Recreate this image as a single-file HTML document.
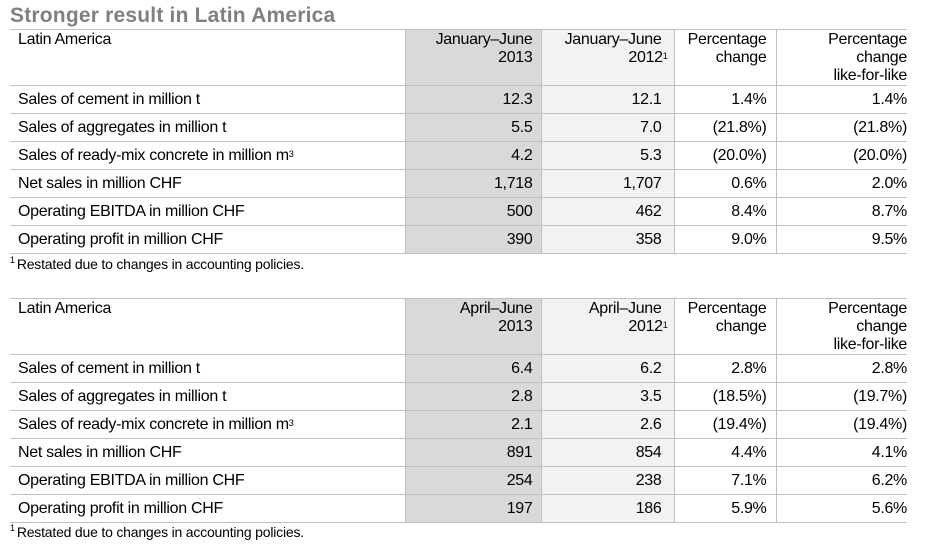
<!DOCTYPE html>
<html><head><meta charset="utf-8"><style>
body{margin:0;width:935px;height:551px;background:#fff;font-family:"Liberation Sans",Arial,sans-serif;color:#000;overflow:hidden;position:relative}
.title{position:absolute;left:10px;top:4px;font-size:21px;font-weight:bold;color:#808080;letter-spacing:0.2px}
table{position:absolute;left:10px;border-collapse:collapse;table-layout:fixed;font-size:16px;letter-spacing:-0.3px}
td{border-top:1px solid #c0c0c0;border-bottom:1px solid #c0c0c0;padding:0 6px;height:27px;text-align:right;vertical-align:middle;line-height:18px}
td.l{text-align:left;padding-left:8px}
td.c1{background:#d9d9d9;border-left:1px solid #c0c0c0;padding-right:8px}
td.c2{background:#f2f2f2;border-left:1px solid #c0c0c0;padding-right:12px}
td.c3{border-left:1px solid #c0c0c0;padding-right:9px}
td.c4{border-left:1px solid #c0c0c0;padding-right:0px}
tr.h td{height:54px;vertical-align:top;padding-top:1px;padding-bottom:0}
sup{font-size:9px;vertical-align:top;position:relative;top:-2px;margin-right:-6px}
.fn{position:absolute;left:10px;font-size:14px;letter-spacing:-0.2px}
.fn sup{margin-right:2px;top:-1px}
</style></head><body>
<div class="title">Stronger result in Latin America</div>

<table style="top:29px">
<colgroup><col style="width:395px"><col style="width:136px"><col style="width:133px"><col style="width:102px"><col style="width:131px"></colgroup>
<tr class="h"><td class="l">Latin America</td><td class="c1">January–June<br>2013</td><td class="c2">January–June<br>2012<sup>1</sup></td><td class="c3">Percentage<br>change</td><td class="c4">Percentage<br>change<br>like-for-like</td></tr>
<tr><td class="l">Sales of cement in million t</td><td class="c1">12.3</td><td class="c2">12.1</td><td class="c3">1.4%</td><td class="c4">1.4%</td></tr>
<tr><td class="l">Sales of aggregates in million t</td><td class="c1">5.5</td><td class="c2">7.0</td><td class="c3">(21.8%)</td><td class="c4">(21.8%)</td></tr>
<tr><td class="l">Sales of ready-mix concrete in million m<sup style="margin:0">3</sup></td><td class="c1">4.2</td><td class="c2">5.3</td><td class="c3">(20.0%)</td><td class="c4">(20.0%)</td></tr>
<tr><td class="l">Net sales in million CHF</td><td class="c1">1,718</td><td class="c2">1,707</td><td class="c3">0.6%</td><td class="c4">2.0%</td></tr>
<tr><td class="l">Operating EBITDA in million CHF</td><td class="c1">500</td><td class="c2">462</td><td class="c3">8.4%</td><td class="c4">8.7%</td></tr>
<tr><td class="l">Operating profit in million CHF</td><td class="c1">390</td><td class="c2">358</td><td class="c3">9.0%</td><td class="c4">9.5%</td></tr>
</table>
<div class="fn" style="top:256px"><sup>1</sup>Restated due to changes in accounting policies.</div>

<table style="top:298px">
<colgroup><col style="width:395px"><col style="width:136px"><col style="width:133px"><col style="width:102px"><col style="width:131px"></colgroup>
<tr class="h"><td class="l">Latin America</td><td class="c1">April–June<br>2013</td><td class="c2">April–June<br>2012<sup>1</sup></td><td class="c3">Percentage<br>change</td><td class="c4">Percentage<br>change<br>like-for-like</td></tr>
<tr><td class="l">Sales of cement in million t</td><td class="c1">6.4</td><td class="c2">6.2</td><td class="c3">2.8%</td><td class="c4">2.8%</td></tr>
<tr><td class="l">Sales of aggregates in million t</td><td class="c1">2.8</td><td class="c2">3.5</td><td class="c3">(18.5%)</td><td class="c4">(19.7%)</td></tr>
<tr><td class="l">Sales of ready-mix concrete in million m<sup style="margin:0">3</sup></td><td class="c1">2.1</td><td class="c2">2.6</td><td class="c3">(19.4%)</td><td class="c4">(19.4%)</td></tr>
<tr><td class="l">Net sales in million CHF</td><td class="c1">891</td><td class="c2">854</td><td class="c3">4.4%</td><td class="c4">4.1%</td></tr>
<tr><td class="l">Operating EBITDA in million CHF</td><td class="c1">254</td><td class="c2">238</td><td class="c3">7.1%</td><td class="c4">6.2%</td></tr>
<tr><td class="l">Operating profit in million CHF</td><td class="c1">197</td><td class="c2">186</td><td class="c3">5.9%</td><td class="c4">5.6%</td></tr>
</table>
<div class="fn" style="top:524px"><sup>1</sup>Restated due to changes in accounting policies.</div>
</body></html>
